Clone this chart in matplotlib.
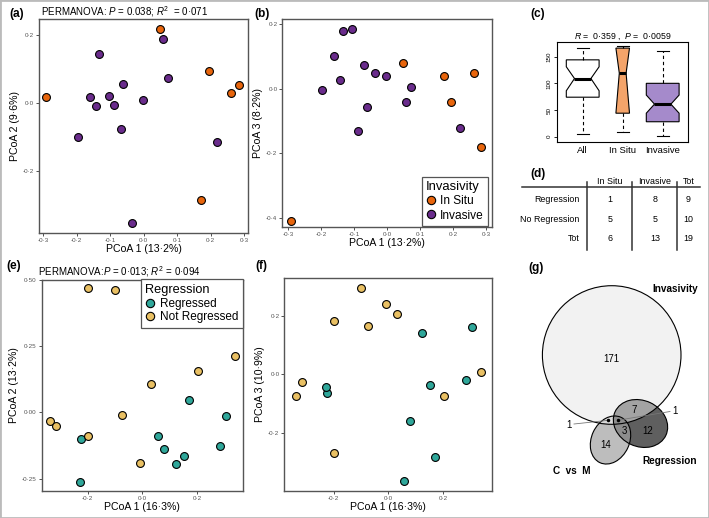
import numpy as np
import matplotlib
matplotlib.use('Agg')
import matplotlib.pyplot as plt
from matplotlib.patches import Ellipse, Circle, Rectangle
from matplotlib.lines import Line2D

plt.rcParams['font.family'] = ['Liberation Sans', 'DejaVu Sans']
plt.rcParams['mathtext.fontset'] = 'custom'
plt.rcParams['mathtext.rm'] = 'Liberation Sans'
plt.rcParams['mathtext.it'] = 'Liberation Sans:italic'
plt.rcParams['mathtext.bf'] = 'Liberation Sans:bold'

# ---- data: invasivity PCoA (panels a, b) ----
insitu_pc1 = [-0.292, 0.049, 0.195, 0.262, 0.284, 0.173]
insitu_pc2 = [0.017, 0.217, 0.095, 0.029, 0.052, -0.285]
insitu_pc3 = [-0.410, 0.080, -0.042, 0.048, -0.180, 0.040]
invasive_pc1 = [0.059, -0.133, 0.073, -0.062, -0.161, -0.105, -0.143, -0.089, -0.002, -0.069, -0.197, 0.220, -0.035]
invasive_pc2 = [0.186, 0.143, 0.072, 0.055, 0.018, 0.021, -0.009, -0.005, 0.009, -0.075, -0.099, -0.113, -0.351]
invasive_pc3 = [-0.041, 0.180, 0.004, -0.058, 0.102, 0.186, 0.026, -0.132, 0.040, 0.074, -0.003, -0.120, 0.048]

# ---- data: regression PCoA (panels e, f) ----
regressed_pc1 = [0.170, 0.307, 0.057, -0.225, 0.079, 0.283, 0.154, 0.123, -0.229]
regressed_pc2 = [0.046, -0.014, -0.088, -0.102, -0.140, -0.128, -0.166, -0.194, -0.262]
regressed_pc3 = [-0.284, 0.161, -0.366, -0.065, -0.161, -0.018, -0.036, 0.142, -0.042]
notreg_pc1 = [-0.198, -0.101, 0.339, 0.203, 0.032, -0.073, -0.338, -0.317, -0.199, -0.007]
notreg_pc2 = [0.469, 0.464, 0.211, 0.157, 0.106, -0.010, -0.034, -0.052, -0.089, -0.191]
notreg_pc3 = [-0.270, 0.296, 0.009, -0.073, 0.206, 0.164, -0.074, -0.026, 0.181, 0.240]

# ---- data: boxplot (panel c) ----
box_groups = ['All', 'In Situ', 'Invasive']
box_whislo = [5, 9, 2]
box_q1 = [74, 44, 28]
box_med = [109, 119, 61]
box_q3 = [144, 166, 100]
box_whishi = [167, 170, 160]
box_cilo = [86, 44, 44]
box_cihi = [131, 166, 78]

# ---- data: contingency table (panel d) ----
tab_cols = ['In Situ', 'Invasive', 'Tot']
tab_rows = ['Regression', 'No Regression', 'Tot']
tab_vals = [[1, 8, 9], [5, 5, 10], [6, 13, 19]]

# ---- data: euler diagram counts (panel g) ----
venn_sets = ['Invasivity', 'Regression', 'C  vs  M']
venn_regions = ['Inv', 'Inv&Reg', 'Reg', 'Reg&CvM', 'CvM', 'Inv&CvM', 'Inv&Reg&CvM']
venn_counts = [171, 7, 12, 3, 14, 1, 1]

C_INSITU = '#E8650C'
C_INV = '#6A2C8C'
C_REG = '#2FA79A'
C_NREG = '#E9C063'

W, H = 709, 518
fig = plt.figure(figsize=(7.09, 5.18), dpi=100)


def add_ax(l, t, r, b):
    return fig.add_axes([l / W, 1 - b / H, (r - l) / W, (b - t) / H])


def dot(v, nd):
    return f'{v:.{nd}f}'.replace('.', '·')


def style_pcoa(ax, xt, yt, ndx, ndy, xlab, ylab):
    for s in ax.spines.values():
        s.set_color('#555555')
        s.set_linewidth(1.0)
    ax.set_xticks(xt)
    ax.set_xticklabels([dot(v, ndx) for v in xt])
    ax.set_yticks(yt)
    ax.set_yticklabels([dot(v, ndy) for v in yt])
    ax.tick_params(length=2, width=0.6, color='#333333', labelsize=4.5,
                   labelcolor='#555555', pad=1.5)
    ax.set_xlabel(xlab, fontsize=7.6, labelpad=1)
    ax.set_ylabel(ylab, fontsize=7.6, labelpad=2)


def pts(ax, x, y, col):
    ax.scatter(x, y, s=32, c=col, edgecolors='black', linewidths=0.8, zorder=3)


def legend_handles(labels, cols):
    return [Line2D([], [], ls='none', marker='o', ms=6, mfc=c, mec='black',
                   mew=0.8, label=l) for l, c in zip(labels, cols)]


# (a)
ax = add_ax(38.7, 19.3, 248.3, 232.7)
pts(ax, insitu_pc1, insitu_pc2, C_INSITU)
pts(ax, invasive_pc1, invasive_pc2, C_INV)
ax.set_xlim(-0.314, 0.313)
ax.set_ylim(-0.380, 0.245)
style_pcoa(ax, [-0.3, -0.2, -0.1, 0.0, 0.1, 0.2, 0.3], [-0.2, 0.0, 0.2], 1, 1,
           'PCoA 1 (13·2%)', 'PCoA 2 (9·6%)')
ax.set_title(r'PERMANOVA: $P$ = 0.038; $R^2$  = 0·071', fontsize=7, loc='left',
             pad=3, x=0.01)

# (b)
ax = add_ax(282.3, 19.3, 492, 227)
pts(ax, insitu_pc1, insitu_pc3, C_INSITU)
pts(ax, invasive_pc1, invasive_pc3, C_INV)
ax.set_xlim(-0.317, 0.318)
ax.set_ylim(-0.428, 0.215)
style_pcoa(ax, [-0.3, -0.2, -0.1, 0.0, 0.1, 0.2, 0.3], [-0.4, -0.2, 0.0, 0.2], 1, 1,
           'PCoA 1 (13·2%)', 'PCoA 3 (8·2%)')
lg = fig.legend(handles=legend_handles(['In Situ', 'Invasive'], [C_INSITU, C_INV]),
                title='Invasivity', loc='upper left',
                bbox_to_anchor=(421.7 / W, 1 - 176.7 / H), fontsize=8.6,
                title_fontsize=9.4, frameon=True, fancybox=False, borderaxespad=0,
                handlelength=0.8, handletextpad=0.4, labelspacing=0.2,
                borderpad=0.35, alignment='left', framealpha=1)
lg.get_frame().set_edgecolor('#555555')
lg.get_frame().set_linewidth(0.9)

# (c)
ax = add_ax(557.3, 41.7, 688.3, 141.7)
stats = []
for i in range(len(box_groups)):
    stats.append(dict(med=box_med[i], q1=box_q1[i], q3=box_q3[i],
                      whislo=box_whislo[i], whishi=box_whishi[i],
                      cilo=box_cilo[i], cihi=box_cihi[i], fliers=[]))
bp = ax.bxp(stats, positions=[1, 2, 3], widths=[0.82, 0.34, 0.82], shownotches=True,
            patch_artist=True, showfliers=False, capwidths=[0.3, 0.3, 0.3],
            boxprops=dict(lw=0.8, edgecolor='black'),
            whiskerprops=dict(lw=0.8, ls=(0, (3, 2.5))),
            capprops=dict(lw=0.8), medianprops=dict(lw=2.2, color='black'))
for patch, col in zip(bp['boxes'], ['white', '#F4A46A', '#A58ACB']):
    patch.set_facecolor(col)
ax.set_xlim(0.365, 3.64)
ax.set_ylim(-9.4, 178)
ax.set_xticks([1, 2, 3])
ax.set_xticklabels(box_groups)
ax.set_yticks([0, 50, 100, 150])
ax.tick_params(axis='y', labelsize=4.5, length=2.5, width=0.6, pad=1.5,
               labelrotation=90)
ax.tick_params(axis='x', labelsize=6.8, length=0, pad=3)
for lab in ax.get_yticklabels():
    lab.set_va('center')
for s in ax.spines.values():
    s.set_linewidth(0.8)
ax.set_title(r'$R$ =  0·359 ,  $P$ =  0·0059', fontsize=6.3, pad=2)

# (e)
ax = add_ax(41.7, 280, 242.7, 490.7)
pts(ax, regressed_pc1, regressed_pc2, C_REG)
pts(ax, notreg_pc1, notreg_pc2, C_NREG)
ax.set_xlim(-0.369, 0.368)
ax.set_ylim(-0.296, 0.498)
style_pcoa(ax, [-0.2, 0.0, 0.2], [-0.25, 0.0, 0.25, 0.5], 1, 2,
           'PCoA 1 (16·3%)', 'PCoA 2 (13·2%)')
ax.set_title(r'PERMANOVA:$P$ = 0·013; $R^2$ = 0·094', fontsize=7, loc='left',
             pad=3, x=-0.02)
lg = ax.legend(handles=legend_handles(['Regressed', 'Not Regressed'], [C_REG, C_NREG]),
               title='Regression', loc='upper right', bbox_to_anchor=(1.0, 1.004),
               fontsize=8.5, title_fontsize=9.2, frameon=True, fancybox=False,
               borderaxespad=0, handlelength=0.8, handletextpad=0.4,
               labelspacing=0.15, borderpad=0.4, alignment='left', framealpha=1)
lg.get_frame().set_edgecolor('#555555')
lg.get_frame().set_linewidth(0.9)

# (f)
ax = add_ax(284.3, 278.3, 492, 490.7)
pts(ax, regressed_pc1, regressed_pc3, C_REG)
pts(ax, notreg_pc1, notreg_pc3, C_NREG)
ax.set_xlim(-0.380, 0.379)
ax.set_ylim(-0.398, 0.328)
style_pcoa(ax, [-0.2, 0.0, 0.2], [-0.2, 0.0, 0.2], 1, 1,
           'PCoA 1 (16·3%)', 'PCoA 3 (10·9%)')

# overlay in pixel coordinates: panel letters, table, euler diagram
ov = fig.add_axes([0, 0, 1, 1])
ov.set_xlim(0, W)
ov.set_ylim(H, 0)
ov.axis('off')

for lab, (x, y) in zip(['(a)', '(b)', '(c)', '(d)', '(e)', '(f)', '(g)'],
                       [(16.5, 14), (262, 13.5), (538, 13.5), (538, 174),
                        (13.5, 266), (261.5, 266), (536.5, 267.5)]):
    ov.text(x, y, lab, fontsize=8.6, fontweight='bold', ha='center', va='center')

# (d) table
col_x = [610, 655, 688.5]
row_y = [199.5, 220, 238.5]
for j, c in enumerate(tab_cols):
    ov.text(col_x[j], 181.5, c, fontsize=6.4, ha='center', va='center')
for i, r in enumerate(tab_rows):
    ov.text(579.5, row_y[i], r, fontsize=6.4, ha='right', va='center')
    for j in range(len(tab_cols)):
        ov.text(col_x[j], row_y[i], str(tab_vals[i][j]), fontsize=6.4,
                ha='center', va='center')
ov.plot([521.7, 700], [187.3, 187.3], color='#333333', lw=1.1)
for vx in [586.7, 631.7, 676.7]:
    ov.plot([vx, vx], [182, 250], color='#333333', lw=1.1)

# (g) euler diagram (layout of shapes)
circ_inv = dict(xy=(611.7, 355), radius=69.3)
ell_reg = dict(xy=(640.5, 423.5), width=56, height=46, angle=25)
ell_cvm = dict(xy=(610.5, 440), width=38, height=50, angle=25)

inv_clip = Circle(transform=ov.transData, **circ_inv)
reg_clip = Ellipse(transform=ov.transData, **ell_reg)
ov.add_patch(Circle(fc='#F2F2F2', ec='none', **circ_inv))
ov.add_patch(Ellipse(fc='#5F5F5F', ec='none', **ell_reg))
p = ov.add_patch(Ellipse(fc='#A3A3A3', ec='none', **ell_reg))
p.set_clip_path(inv_clip)
ov.add_patch(Ellipse(fc='#BDBDBD', ec='none', **ell_cvm))
p = ov.add_patch(Ellipse(fc='#DADADA', ec='none', **ell_cvm))
p.set_clip_path(inv_clip)
p = ov.add_patch(Ellipse(fc='#8D8D8D', ec='none', **ell_cvm))
p.set_clip_path(reg_clip)
ov.add_patch(Circle(fc='none', ec='black', lw=0.8, **circ_inv))
ov.add_patch(Ellipse(fc='none', ec='black', lw=0.8, **ell_reg))
ov.add_patch(Ellipse(fc='none', ec='black', lw=0.8, **ell_cvm))

count_pos = {'Inv': (611.7, 359.3), 'Inv&Reg': (634, 410), 'Reg': (647.7, 431),
             'Reg&CvM': (624.3, 431), 'CvM': (606, 445),
             'Inv&CvM': (569.3, 425), 'Inv&Reg&CvM': (675, 411)}
leader = {'Inv&CvM': ((574, 424), (608.3, 420.3)),
          'Inv&Reg&CvM': ((670, 411.5), (617.7, 420.3))}
for reg, n in zip(venn_regions, venn_counts):
    x, y = count_pos[reg]
    ov.text(x, y, str(n), fontsize=7, ha='center', va='center')
    if reg in leader:
        (x0, y0), (x1, y1) = leader[reg]
        ov.plot([x0, x1], [y0, y1], color='#777777', lw=0.6)
        ov.plot(x1, y1, 'o', color='black', ms=1.5)

for name, (x, y) in zip(venn_sets, [(675, 288.5), (669.5, 461.5), (571.5, 470.5)]):
    ov.text(x, y, name, fontsize=7.2, fontweight='bold', ha='center', va='center')

fig.add_artist(Rectangle((0, 0), 1, 1, transform=fig.transFigure, fill=False,
                         ec='#BBBBBB', lw=2))

fig.savefig('out.png', dpi=100)
